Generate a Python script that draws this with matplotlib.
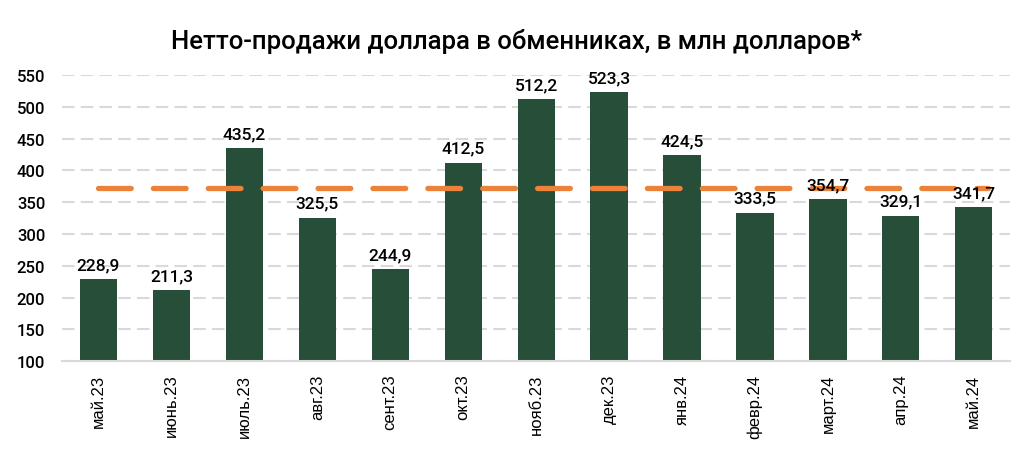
import numpy as np
import matplotlib.pyplot as plt

months = ['май.23', 'июнь.23', 'июль.23', 'авг.23', 'сент.23', 'окт.23', 'нояб.23',
          'дек.23', 'янв.24', 'февр.24', 'март.24', 'апр.24', 'май.24']
values = [228.9, 211.3, 435.2, 325.5, 244.9, 412.5, 512.2, 523.3, 424.5, 333.5, 354.7, 329.1, 341.7]
average = [372.0] * len(months)
yticks = [100, 150, 200, 250, 300, 350, 400, 450, 500, 550]

green = '#264e38'
orange = '#ec8139'

fig = plt.figure(figsize=(10.33, 4.56), dpi=100)
ax = fig.add_axes([0.060, 0.206, 0.918, 0.627])

x = np.arange(len(months))
ax.bar(x, values, width=0.51, color=green, zorder=2)

# average line, stretched a bit past the last bar
xl = np.concatenate([x[:-1], [x[-1] + 0.2]])
ax.plot(xl, average, color=orange, linewidth=3.8, linestyle=(0, (6.2, 4.2)),
        dash_capstyle='round', zorder=3)

for xi, v in zip(x, values):
    ax.text(xi, v + 11, f'{v:.1f}'.replace('.', ','), ha='center', va='bottom',
            fontsize=12.5, family='Roboto', fontweight='medium', color='black', zorder=4)

ax.set_xlim(-0.5, len(months) - 0.5)
ax.set_ylim(100, 550)
ax.set_yticks(yticks)
ax.set_yticklabels([str(t) for t in yticks], family='Roboto', fontweight='medium', fontsize=12)
ax.set_xticks(x)
ax.set_xticklabels(months, rotation=90, family='Liberation Sans', fontsize=12)
ax.tick_params(axis='both', length=0)
ax.tick_params(axis='y', pad=12)
ax.tick_params(axis='x', pad=9)

ax.grid(axis='y', color='#d9d9d9', linewidth=1.5, linestyle=(0, (6, 3)), zorder=0)
ax.set_axisbelow(True)
for s in ['top', 'right', 'left']:
    ax.spines[s].set_visible(False)
ax.spines['bottom'].set_color('#d9d9d9')
ax.spines['bottom'].set_linewidth(1.5)

fig.text(0.5, 0.91, 'Нетто-продажи доллара в обменниках, в млн долларов*', ha='center',
         va='center', fontsize=18.5, family='Roboto', fontweight='medium')

plt.savefig('out.png', dpi=100)
